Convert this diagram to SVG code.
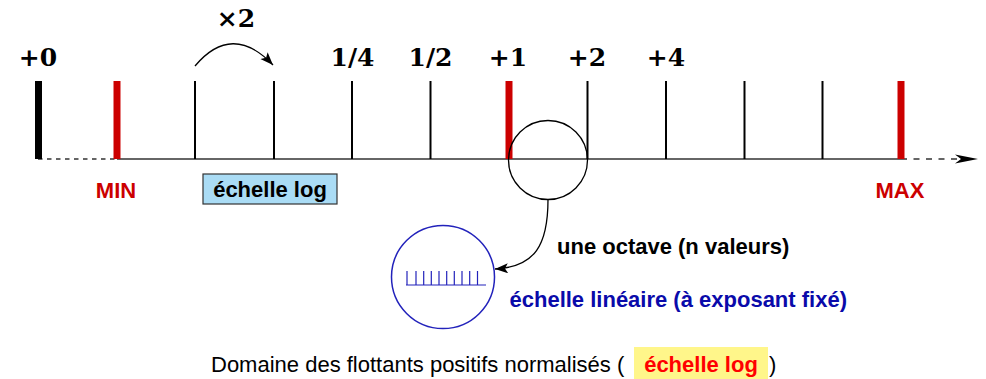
<svg xmlns="http://www.w3.org/2000/svg" width="986" height="379" viewBox="0 0 986 379">
<style>
.tick{stroke:#000;stroke-width:2}
.thick{stroke-width:7}
.red{stroke:#cc0000}
.math{font-family:"DejaVu Serif","Liberation Serif",serif;font-weight:bold;font-size:25px;fill:#000;text-anchor:middle}
.sans{font-family:"Liberation Sans",Arial,sans-serif;font-size:22px}
.b{font-weight:bold}
</style>
<defs>
<marker id="ah" markerUnits="userSpaceOnUse" markerWidth="16" markerHeight="12" refX="13" refY="5" orient="auto">
<path d="M0,0 L13,5 L0,10 L3,5 z" fill="#000"/>
</marker>
</defs>
<g id="axis">
<line x1="38" y1="159" x2="117" y2="159" stroke="#333" stroke-width="1.4" stroke-dasharray="4.5,4.5"/>
<line x1="117" y1="159" x2="901" y2="159" stroke="#333" stroke-width="1.4"/>
<line x1="901" y1="159" x2="957" y2="159" stroke="#333" stroke-width="1.4" stroke-dasharray="6,6.5"/>
<path d="M978,159 L955,154.5 L961,159 L955,163.5 z" fill="#000"/>
</g>
<g id="ticks">
<line class="tick thick" x1="38.5" y1="81" x2="38.5" y2="159"/>
<line class="tick thick red" x1="117" y1="81" x2="117" y2="159"/>
<line class="tick" x1="195" y1="81" x2="195" y2="159"/>
<line class="tick" x1="274" y1="81" x2="274" y2="159"/>
<line class="tick" x1="352" y1="81" x2="352" y2="159"/>
<line class="tick" x1="430.5" y1="81" x2="430.5" y2="159"/>
<line class="tick thick red" x1="509" y1="81" x2="509" y2="159"/>
<line class="tick" x1="587.5" y1="81" x2="587.5" y2="159"/>
<line class="tick" x1="666" y1="81" x2="666" y2="159"/>
<line class="tick" x1="744.5" y1="81" x2="744.5" y2="159"/>
<line class="tick" x1="822.5" y1="81" x2="822.5" y2="159"/>
<line class="tick thick red" x1="901" y1="81" x2="901" y2="159"/>
</g>
<g id="tick-labels">
<text class="math" x="38" y="66">+0</text>
<text class="math" x="352.5" y="66">1/4</text>
<text class="math" x="430.5" y="66">1/2</text>
<text class="math" x="508" y="66">+1</text>
<text class="math" x="587" y="66">+2</text>
<text class="math" x="666" y="66">+4</text>
<text class="math" x="236" y="27">×2</text>
</g>
<g id="min-label"><text class="sans b" x="116" y="198" fill="#cc0000" text-anchor="middle">MIN</text></g>
<g id="max-label"><text class="sans b" x="900" y="198" fill="#cc0000" text-anchor="middle">MAX</text></g>
<g id="log-box">
<rect x="203" y="174" width="134" height="30" fill="#aadcf5" stroke="#333" stroke-width="1.2"/>
<text class="sans b" x="270" y="197" text-anchor="middle" fill="#000">échelle log</text>
</g>
<g id="octave-circle">
<circle cx="548" cy="160" r="39.5" fill="none" stroke="#000" stroke-width="1.3"/>
</g>
<g id="linear-circle">
<circle cx="443" cy="277" r="51.5" fill="none" stroke="#2222bb" stroke-width="1.5"/>
<g stroke="#2222bb" stroke-width="1.2">
<line x1="406" y1="285" x2="486" y2="285"/>
<line x1="407" y1="271" x2="407" y2="285"/>
<line x1="416" y1="271" x2="416" y2="285"/>
<line x1="423.7" y1="271" x2="423.7" y2="285"/>
<line x1="431.3" y1="271" x2="431.3" y2="285"/>
<line x1="439" y1="271" x2="439" y2="285"/>
<line x1="446.7" y1="271" x2="446.7" y2="285"/>
<line x1="454.3" y1="271" x2="454.3" y2="285"/>
<line x1="462" y1="271" x2="462" y2="285"/>
<line x1="469.7" y1="271" x2="469.7" y2="285"/>
<line x1="477.5" y1="271" x2="477.5" y2="285"/>
</g>
</g>
<g id="octave-label"><text class="sans b" x="557" y="254" fill="#000">une octave (n valeurs)</text></g>
<g id="linear-label"><text class="sans b" x="509.5" y="307" fill="#0a0aaa">échelle linéaire (à exposant fixé)</text></g>
<g id="connectors" fill="none" stroke="#000" stroke-width="1.3">
<path d="M195,66 Q232,22 273,65" marker-end="url(#ah)"/>
<path d="M548,199.5 C548,245 535,267 495,269" marker-end="url(#ah)"/>
</g>
<g id="caption">
<text class="sans" x="211" y="372" fill="#000">Domaine des flottants positifs normalisés (</text>
<rect x="634" y="347" width="134" height="32" fill="#fff68a"/>
<text class="sans b" x="701" y="372" fill="#ff0000" text-anchor="middle">échelle log</text>
<text class="sans" x="769" y="372" fill="#000">)</text>
</g>
</svg>
